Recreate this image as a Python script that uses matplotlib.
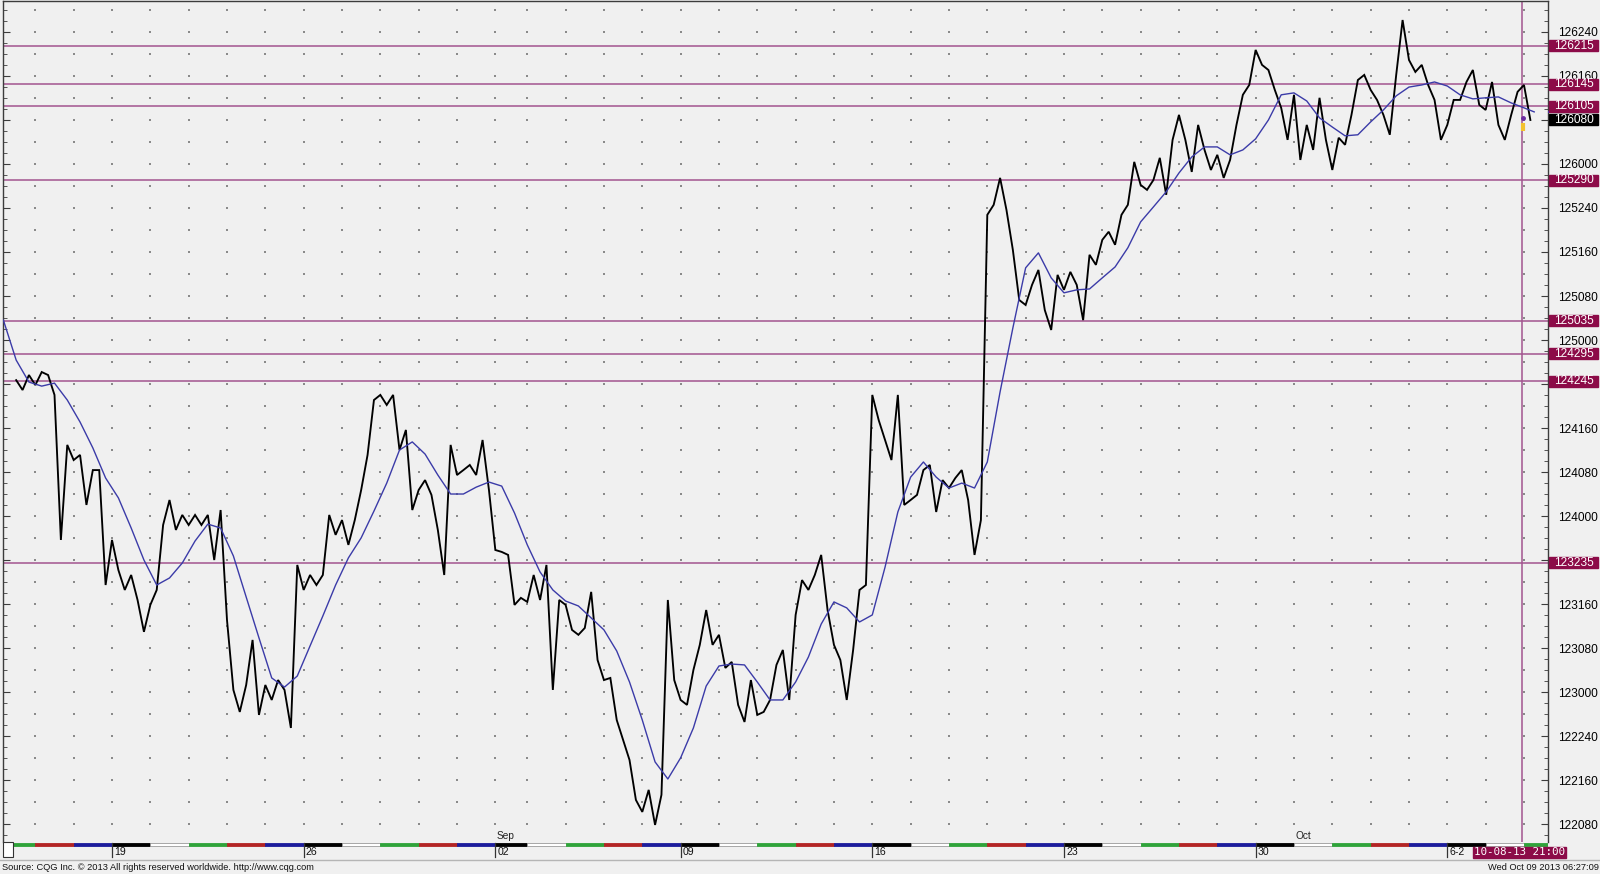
import datetime as dt
import numpy as np
import matplotlib
matplotlib.use("Agg")
import matplotlib.pyplot as plt
from matplotlib.patches import Rectangle
from matplotlib.transforms import blended_transform_factory
from matplotlib.ticker import MultipleLocator, FuncFormatter

# ---------------- data ----------------
session_year = 2013
session_month = [8] * 13 + [9] * 21 + [10] * 7
session_day = [14, 15, 16, 19, 20, 21, 22, 23, 26, 27, 28, 29, 30,
               2, 3, 4, 5, 6, 9, 10, 11, 12, 13, 16, 17, 18, 19, 20,
               23, 24, 25, 26, 27, 30,
               1, 2, 3, 4, 7, 8, 9]
session_bars = [6] * 13 + [5] + [6] * 27          # Labor Day session is short

week_labels = ["19", "26", "02", "09", "16", "23", "30", "6-2"]
month_names = {9: "Sep", 10: "Oct"}

close_first_bar = 3
close = [
    124.772, 124.716, 124.801, 124.744, 124.818, 124.801, 124.688,
    123.864, 124.404, 124.318, 124.347, 124.063, 124.261, 124.261,
    123.608, 123.864, 123.693, 123.580, 123.665, 123.523, 123.342,
    123.495, 123.580, 123.949, 124.091, 123.921, 124.006, 123.949,
    124.006, 123.949, 124.006, 123.750, 124.034, 123.409, 123.012,
    122.887, 123.040, 123.296, 122.870, 123.040, 122.955, 123.068,
    123.012, 122.796, 123.722, 123.580, 123.665, 123.608, 123.665,
    124.006, 123.893, 123.977, 123.836, 123.977, 124.148, 124.347,
    124.659, 124.688, 124.631, 124.688, 124.375, 124.489, 124.034,
    124.148, 124.204, 124.120, 123.921, 123.665, 124.404, 124.233,
    124.261, 124.290, 124.233, 124.432, 124.148, 123.807, 123.796,
    123.779, 123.495, 123.535, 123.512, 123.665, 123.523, 123.722,
    123.012, 123.523, 123.495, 123.353, 123.325, 123.364, 123.569,
    123.182, 123.068, 123.080, 122.841, 122.728, 122.614, 122.387,
    122.319, 122.444, 122.245, 122.416, 123.523, 123.068, 122.955,
    122.927, 123.125, 123.268, 123.466, 123.268, 123.325, 123.137,
    123.171, 122.927, 122.830, 123.068, 122.870, 122.887, 122.955,
    123.154, 123.239, 122.955, 123.438, 123.636, 123.580, 123.665,
    123.779, 123.466, 123.268, 123.182, 122.955, 123.239, 123.580,
    123.608, 124.688, 124.545, 124.432, 124.318, 124.688, 124.063,
    124.091, 124.120, 124.261, 124.290, 124.023, 124.204, 124.159,
    124.216, 124.261, 124.091, 123.779, 123.977, 125.711, 125.768,
    125.921, 125.739, 125.512, 125.227, 125.199, 125.313, 125.398,
    125.170, 125.057, 125.370, 125.285, 125.387, 125.313, 125.113,
    125.484, 125.427, 125.569, 125.615, 125.541, 125.711, 125.768,
    126.012, 125.881, 125.853, 125.909, 126.035, 125.825, 126.137,
    126.279, 126.137, 125.955, 126.222, 126.080, 125.966, 126.052,
    125.921, 126.023, 126.222, 126.393, 126.449, 126.648, 126.563,
    126.534, 126.421, 126.319, 126.137, 126.393, 126.023, 126.222,
    126.080, 126.376, 126.137, 125.966, 126.149, 126.109, 126.279,
    126.477, 126.506, 126.421, 126.364, 126.279, 126.166, 126.506,
    126.818, 126.591, 126.523, 126.563, 126.449, 126.364, 126.137,
    126.222, 126.364, 126.364, 126.466, 126.534, 126.336, 126.307,
    126.466, 126.222, 126.137, 126.279, 126.410, 126.449, 126.250,
]

ma_first_bar = 1
ma_step = 2
ma = [
    125.113, 124.886, 124.761, 124.738, 124.755, 124.659, 124.534, 124.387, 124.216, 124.103,
    123.932, 123.750, 123.608, 123.648, 123.733, 123.858, 123.954, 123.932, 123.773, 123.540,
    123.308, 123.080, 123.028, 123.091, 123.262, 123.432, 123.608, 123.762, 123.876, 124.028,
    124.187, 124.375, 124.421, 124.352, 124.233, 124.125, 124.125, 124.164, 124.193, 124.170,
    124.017, 123.836, 123.682, 123.580, 123.517, 123.489, 123.421, 123.353, 123.233, 123.057,
    122.841, 122.603, 122.506, 122.626, 122.796, 123.034, 123.148, 123.159, 123.154, 123.057,
    122.955, 122.955, 123.057, 123.199, 123.386, 123.512, 123.478, 123.398, 123.438, 123.710,
    124.023, 124.221, 124.307, 124.221, 124.159, 124.187, 124.159, 124.307, 124.705, 125.068,
    125.410, 125.495, 125.353, 125.268, 125.285, 125.290, 125.353, 125.415, 125.524, 125.671,
    125.756, 125.842, 125.949, 126.040, 126.097, 126.097, 126.052, 126.080, 126.143, 126.250,
    126.393, 126.404, 126.358, 126.262, 126.210, 126.160, 126.166, 126.239, 126.307, 126.387,
    126.437, 126.449, 126.466, 126.443, 126.393, 126.370, 126.376, 126.381, 126.347, 126.319,
]
ma_last_bar = 240.6
ma_last = 126.296

level_prices = [126 + 21.5 / 32, 126 + 14.5 / 32, 126 + 10.5 / 32, 125 + 29 / 32,
                125 + 3.5 / 32, 124 + 29.5 / 32, 124 + 24.5 / 32, 123 + 23.5 / 32]
last_price = 126 + 8 / 32
cursor_bar = 238.7
cursor_marker_bar = 238.8
cursor_marker_lo, cursor_marker_hi, cursor_dot = 126.19, 126.235, 126.262
cursor_label = "10-08-13 21:00"
timestamp = "Wed Oct 09 2013 06:27:09"
source_note = "Source: CQG Inc. \u00a9 2013 All rights reserved worldwide. http://www.cqg.com"

# ---------------- style ----------------
BG = "#F0F0F0"
LEVEL = "#A3548F"
BOX = "#8C0B48"
MA_COL = "#3B3BA8"
SPINE = "#3C3C3C"
FONT = "Liberation Sans"
weekday_colors = {0: "#000000", 1: "#FFFFFF", 2: "#2FA33A", 3: "#B32424", 4: "#1C1C9C"}

W, H = 1600, 874
fig = plt.figure(figsize=(W / 100, H / 100), dpi=100, facecolor=BG)


def fx(px):
    return px / W


def fy(py):
    return 1 - py / H


PL, PR, PT, PB = 3, 1548, 1, 842
ax = fig.add_axes([fx(PL), fy(PB), fx(PR - PL), (PB - PT) / H])
ax.set_facecolor(BG)

starts = np.concatenate([[0], np.cumsum(session_bars)[:-1]])
XMIN, XMAX = 0.94, 242.76
YMIN, YMAX = 122.148, 126.926
ax.set_xlim(XMIN, XMAX)
ax.set_ylim(YMIN, YMAX)


def cqg(p):
    whole = int(np.floor(p + 1e-9))
    frac = int(round((p - whole) * 320))
    return f"{whole}{frac:03d}"


covered = list(level_prices) + [last_price]


def tick_label(p, pos=None):
    # labels hidden behind a marker box are not shown (as in the reference)
    if min(abs(p - c) for c in covered) < 0.03:
        return ""
    return cqg(p)


# grid dots
rows = np.arange(122.125, 126.93, 0.125)
gx, gy = np.meshgrid(starts, rows)
ax.scatter(gx.ravel(), gy.ravel(), s=0.7, c="#8A8A8A", marker="s", linewidths=0, zorder=1)

# level lines
for p in level_prices:
    ax.axhline(p, color=LEVEL, lw=1.1, zorder=2)
ax.axvline(cursor_bar, color=LEVEL, lw=1.1, zorder=2)

# price + moving average
cx = np.arange(close_first_bar, close_first_bar + len(close))
ax.plot(cx, close, color="black", lw=1.35, zorder=3, solid_joinstyle="miter")
mx = np.append(np.arange(ma_first_bar, ma_first_bar + ma_step * len(ma), ma_step), ma_last_bar)
my = np.append(ma, ma_last)
ax.plot(mx, my, color=MA_COL, lw=1.0, zorder=4)

ax.plot([cursor_marker_bar, cursor_marker_bar], [cursor_marker_lo, cursor_marker_hi],
        color="#F3C22E", lw=3, zorder=5, solid_capstyle="butt")
ax.plot([cursor_marker_bar], [cursor_dot], "o", color="#6A2AA0", ms=2.5, zorder=5)

# axes / ticks
for side in ["left", "right", "top"]:
    ax.spines[side].set_color(SPINE)
    ax.spines[side].set_linewidth(1.0)
ax.spines["bottom"].set_visible(False)
ax.xaxis.set_visible(False)
ax.yaxis.set_major_locator(MultipleLocator(0.25))
ax.yaxis.set_minor_locator(MultipleLocator(1 / 16))
ax.yaxis.set_major_formatter(FuncFormatter(tick_label))
ax.tick_params(axis="y", which="both", left=True, right=True, labelleft=False,
               labelright=True, direction="in", color=SPINE)
ax.tick_params(axis="y", which="major", length=5, pad=7, labelsize=8.6)
ax.tick_params(axis="y", which="minor", length=3)
for lab in ax.get_yticklabels():
    lab.set_fontfamily(FONT)

# right-axis boxes
bt = blended_transform_factory(ax.transAxes, ax.transData)
bx0 = (1549 - PL) / (PR - PL)
bw = 49 / (PR - PL)
bh = 11 / ((PB - PT) / (YMAX - YMIN))
for p, col in [(p, BOX) for p in level_prices] + [(last_price, "black")]:
    ax.add_patch(Rectangle((bx0, p - bh / 2), bw, bh, transform=bt, color=col,
                           clip_on=False, zorder=8))
    ax.text(bx0 + bw / 2, p, cqg(p), transform=bt, ha="center", va="center",
            color="white", fontsize=8.6, family=FONT, zorder=9, clip_on=False)
ax.plot([bx0, bx0 + bw], [ma_last, ma_last], transform=bt, color="#3A3AE0", lw=1.2,
        clip_on=False, zorder=7)

# month labels above the day strip
for i in range(1, len(session_month)):
    if session_month[i] != session_month[i - 1]:
        ax.annotate(month_names[session_month[i]], xy=(starts[i], YMIN), xycoords="data",
                    xytext=(1, 0.5), textcoords="offset points", ha="left", va="bottom",
                    fontsize=7.3, family=FONT, color="#222222")

# ---------------- day strip ----------------
sax = fig.add_axes([fx(PL), fy(860), fx(PR - PL), 18 / H])
sax.set_xlim(XMIN, XMAX)
sax.set_ylim(18, 0)
sax.axis("off")
weekdays = [dt.date(session_year, m, d).weekday() for m, d in zip(session_month, session_day)]
for s0, nb, wd in zip(starts, session_bars, weekdays):
    ec = "#9A9A9A" if wd == 1 else weekday_colors[wd]
    sax.add_patch(Rectangle((s0, 0.6), nb, 3.4, facecolor=weekday_colors[wd],
                            edgecolor=ec, lw=0.6, zorder=2))
mondays = [s for s, wd in zip(starts, weekdays) if wd == 0]
for s0, lab in zip(mondays, week_labels):
    sax.plot([s0, s0], [1, 15], color="#333333", lw=0.9, zorder=3)
    sax.annotate(lab, xy=(s0, 9.8), xycoords="data", xytext=(1.6, 0),
                 textcoords="offset points", ha="left", va="center",
                 fontsize=7.6, family=FONT, color="#111111")

# left white box, separator line, cursor label, footer text
fig.add_artist(Rectangle((fx(3), fy(857)), fx(10), 15 / H, transform=fig.transFigure,
                         facecolor="white", edgecolor="#333333", lw=0.8, zorder=5))
fig.add_artist(plt.Line2D([0, 1], [fy(860), fy(860)], transform=fig.transFigure,
                          color="#B5B5B5", lw=1, zorder=5))
fig.add_artist(Rectangle((fx(1473), fy(857.5)), fx(93), 11 / H, transform=fig.transFigure,
                         color=BOX, zorder=10))
fig.text(fx(1519.5), fy(852), cursor_label, ha="center", va="center", color="white",
         fontsize=7.8, family="DejaVu Sans Mono", zorder=11)
fig.text(fx(2), fy(867.5), source_note, ha="left", va="center", fontsize=6.7,
         family=FONT, color="#111111")
fig.text(fx(1599), fy(867.5), timestamp, ha="right", va="center", fontsize=6.7,
         family=FONT, color="#111111")

fig.savefig("out.png", dpi=100, facecolor=BG)
